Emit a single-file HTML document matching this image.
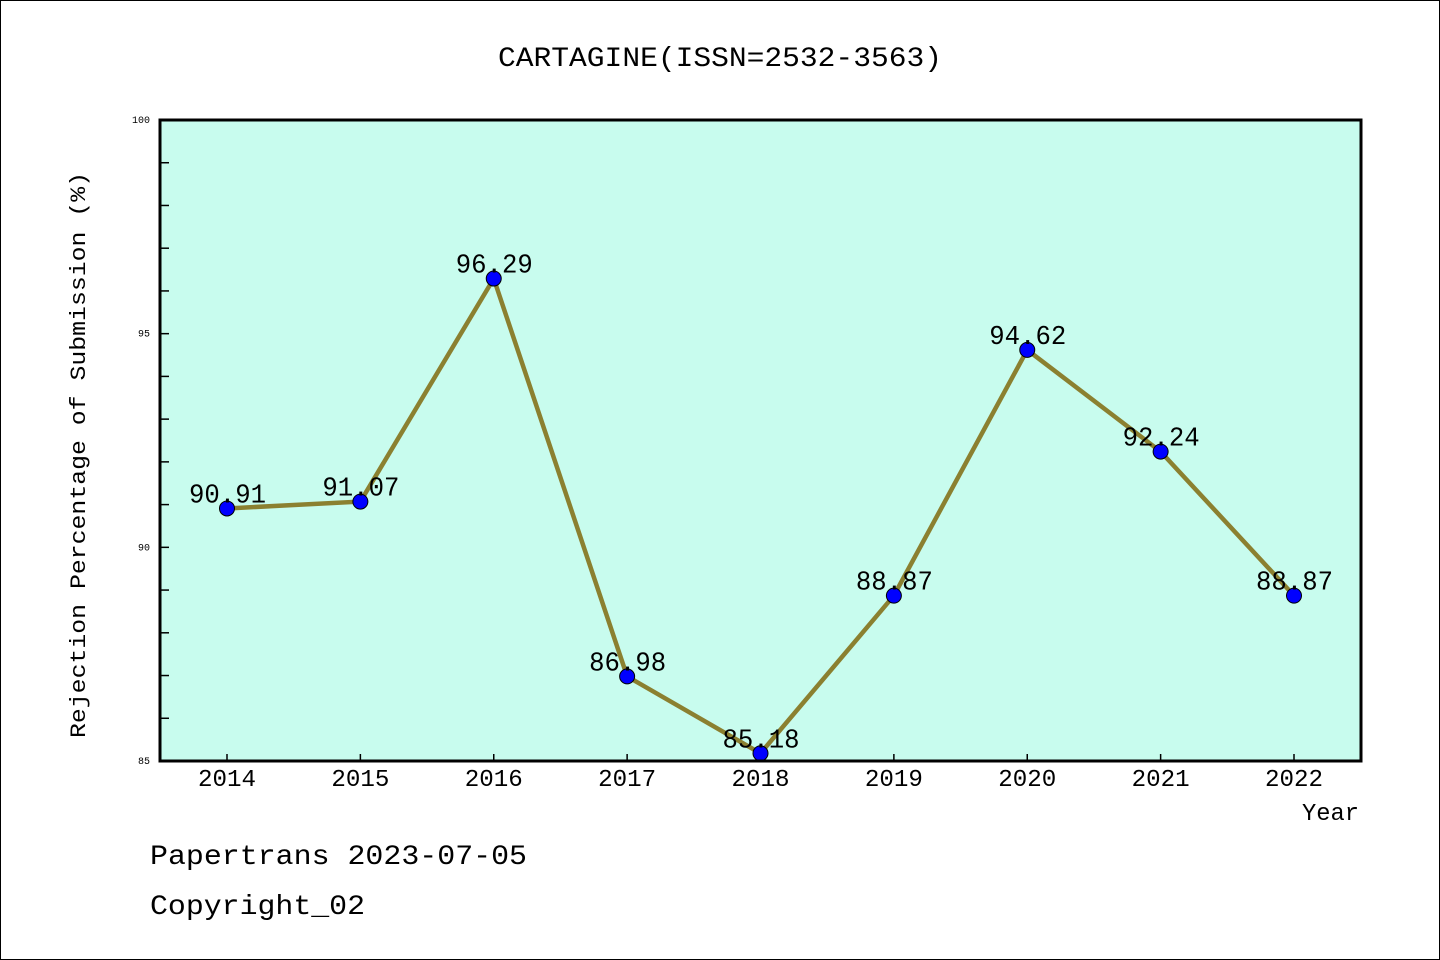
<!DOCTYPE html>
<html><head><meta charset="utf-8"><style>
body{margin:0;background:#fff}
svg{display:block;font-family:"WenQuanYi Zen Hei","Liberation Mono",monospace}
</style></head><body>
<svg id="chart" width="1440" height="960">
<rect x="0.5" y="0.5" width="1439" height="959" fill="#fff" stroke="#000"/>
<text x="498" y="66" font-size="28" textLength="444" lengthAdjust="spacingAndGlyphs">CARTAGINE(ISSN=2532-3563)</text>
<rect x="160" y="120" width="1201" height="641" fill="#c8fcee"/>
<g id="ticks"></g>
<g id="series"></g>
<rect x="160" y="120" width="1201" height="641" fill="none" stroke="#000" stroke-width="3"/>
<text x="85" y="455" font-size="22" text-anchor="middle" textLength="566" lengthAdjust="spacingAndGlyphs" transform="rotate(-90 85 455)">Rejection Percentage of Submission (%)</text>
<text x="1302" y="820" font-size="24" textLength="57" lengthAdjust="spacingAndGlyphs">Year</text>
<text x="150" y="864" font-size="28" textLength="377" lengthAdjust="spacingAndGlyphs">Papertrans 2023-07-05</text>
<text x="150" y="914" font-size="28" textLength="215" lengthAdjust="spacingAndGlyphs">Copyright_02</text>
</svg>
<script>
const years=["2014","2015","2016","2017","2018","2019","2020","2021","2022"];
const rates=[90.91,91.07,96.29,86.98,85.18,88.87,94.62,92.24,88.87];
const labels=["90.91","91.07","96.29","86.98","85.18","88.87","94.62","92.24","88.87"];
const yTicks=[85,90,95,100];
const NS="http://www.w3.org/2000/svg";
const xs=i=>227+i*133.375;
const ys=v=>761-(v-85)*(641/15);
function mk(tag,attrs,parent){const e=document.createElementNS(NS,tag);for(const k in attrs)e.setAttribute(k,attrs[k]);parent.appendChild(e);return e;}
const tg=document.getElementById('ticks'),sg=document.getElementById('series');
for(let v=86;v<100;v++){const t=mk('line',{x1:160,x2:169,y1:ys(v),y2:ys(v),stroke:'#000','stroke-width':1.5},tg);

}
yTicks.forEach(v=>{const t=mk('text',{x:150,y:ys(v)+3,'font-size':10,'text-anchor':'end'},tg);t.textContent=v;

});
years.forEach((y,i)=>{const l=mk('line',{x1:xs(i),x2:xs(i),y1:761,y2:754,stroke:'#000','stroke-width':1.5},tg);


const t=mk('text',{x:xs(i)-29,y:786,'font-size':24,textLength:58,lengthAdjust:'spacingAndGlyphs'},tg);t.textContent=y;

});
const line=mk('polyline',{points:rates.map((v,i)=>xs(i)+','+ys(v)).join(' '),fill:'none',stroke:'#8b8030','stroke-width':4.5},sg);


rates.forEach((v,i)=>{const c=mk('circle',{cx:xs(i),cy:ys(v),r:7.5,fill:'#0000ff',stroke:'#000','stroke-width':1},sg);


const t=mk('text',{x:xs(i)-38,y:ys(v)-6,'font-size':27,textLength:77,lengthAdjust:'spacingAndGlyphs'},sg);t.textContent=labels[i];

});
</script>
</body></html>
